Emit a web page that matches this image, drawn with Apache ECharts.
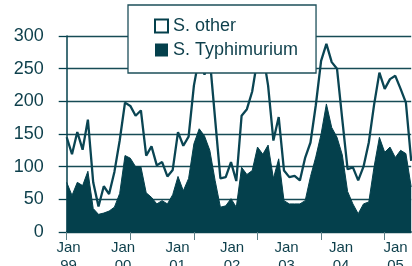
<!DOCTYPE html>
<html>
<head>
<meta charset="utf-8">
<script src="https://cdn.jsdelivr.net/npm/echarts@6/dist/echarts.min.js"></script>
<style>
  html, body { margin: 0; padding: 0; background: #fff; }
  #chart { width: 412px; height: 266px; }
</style>
</head>
<body>
<div id="chart"></div>
<script>
// monthly counts, Jan 1999 .. Jun 2004
var years = ['99', '00', '01', '02', '03', '04'];
var monthNames = ['Jan','Feb','Mar','Apr','May','Jun','Jul','Aug','Sep','Oct','Nov','Dec'];
var labelYears = ['99', '00', '01', '02', '03', '04', '05'];

// S. Typhimurium (filled area)
var typhimurium = [
  76, 56, 76, 71, 93, 36, 27, 29, 32, 38, 59, 117,
  113, 100, 100, 60, 53, 43, 48, 43, 57, 85, 63, 82,
  135, 158, 147, 125, 79, 38, 40, 51, 38, 99, 88, 94,
  130, 119, 133, 82, 112, 48, 43, 43, 43, 48, 85, 115,
  150, 196, 160, 145, 118, 62, 43, 28, 43, 46, 100, 145,
  122, 130, 114, 125, 120, 69
];
// S. other (outline, top line)
var other = [
  145, 119, 153, 126, 172, 76, 39, 70, 58, 92, 140, 198,
  193, 178, 186, 117, 131, 102, 107, 85, 95, 153, 132, 146,
  224, 268, 241, 265, 173, 82, 84, 107, 78, 178, 188, 215,
  265, 275, 224, 140, 176, 94, 84, 86, 79, 114, 137, 194,
  262, 288, 260, 250, 172, 96, 99, 79, 100, 137, 195, 244,
  219, 234, 239, 219, 198, 109
];

var months = [];
years.forEach(function (y) {
  monthNames.forEach(function (m) { months.push(m + ' ' + y); });
});
months = months.slice(0, typhimurium.length);

var dark = '#04404c';
var ink = '#0d3f4b';
var font = 'Liberation Sans, Arial, sans-serif';

var myChart = echarts.init(document.getElementById('chart'));
var option = {
  animation: false,
  textStyle: { fontFamily: font },
  legend: {
    left: 128,
    top: 5,
    orient: 'vertical',
    padding: [12, 18, 14, 26],
    itemGap: 6,
    itemWidth: 13,
    itemHeight: 13,
    backgroundColor: '#fff',
    borderColor: '#1d4f5a',
    borderWidth: 1.3,
    textStyle: { color: ink, fontSize: 18, lineHeight: 18, fontFamily: font },
    data: [
      { name: 'S. other', icon: 'rect', itemStyle: { color: '#fff', borderColor: dark, borderWidth: 2 } },
      { name: 'S. Typhimurium', icon: 'rect', itemStyle: { color: dark, borderWidth: 0 } }
    ]
  },
  grid: [
    { left: 66.7, right: 0.8, top: 36, bottom: 34, outerBoundsMode: 'none' },
    // label strip for the "Jan" labels
    { left: 68.5, right: 16.5, top: 36, bottom: 34, outerBoundsMode: 'none' }
  ],
  xAxis: [
    {
      type: 'category',
      gridIndex: 0,
      boundaryGap: false,
      data: months,
      axisLine: { show: true, lineStyle: { color: dark, width: 1.5 } },
      axisTick: {
        show: true,
        length: 8,
        interval: function (i) { return i % 12 === 0; },
        lineStyle: { color: '#5b7e86', width: 1 }
      },
      axisLabel: { show: false },
      splitLine: { show: false }
    },
    {
      type: 'value',
      gridIndex: 1,
      min: 0,
      max: 6,
      interval: 1,
      axisLine: { show: false },
      axisTick: { show: false },
      splitLine: { show: false },
      axisLabel: {
        color: ink,
        fontSize: 15,
        lineHeight: 18,
        margin: 7,
        fontFamily: font,
        formatter: function (v) { return 'Jan\n' + labelYears[v]; }
      }
    }
  ],
  yAxis: [
    {
      type: 'value',
      gridIndex: 0,
      min: 0,
      max: 300,
      interval: 50,
      axisLine: { show: true, lineStyle: { color: dark, width: 1.5 } },
      axisTick: { show: true, length: 8, lineStyle: { color: dark, width: 1.3 } },
      axisLabel: { color: ink, fontSize: 18, margin: 23, padding: [13, 0, 0, 0], fontFamily: font },
      splitLine: { show: true, lineStyle: { color: '#174b56', width: 1.4 } }
    },
    { type: 'value', gridIndex: 1, show: false, min: 0, max: 300 }
  ],
  series: [
    {
      name: 'S. Typhimurium',
      type: 'line',
      xAxisIndex: 0,
      yAxisIndex: 0,
      symbol: 'none',
      color: dark,
      lineStyle: { color: dark, width: 1 },
      areaStyle: { color: dark, opacity: 1 },
      data: typhimurium
    },
    {
      name: 'S. other',
      type: 'line',
      xAxisIndex: 0,
      yAxisIndex: 0,
      symbol: 'none',
      color: dark,
      lineStyle: { color: '#0a4553', width: 2.3 },
      data: other
    }
  ]
};
myChart.setOption(option);
</script>
</body>
</html>
